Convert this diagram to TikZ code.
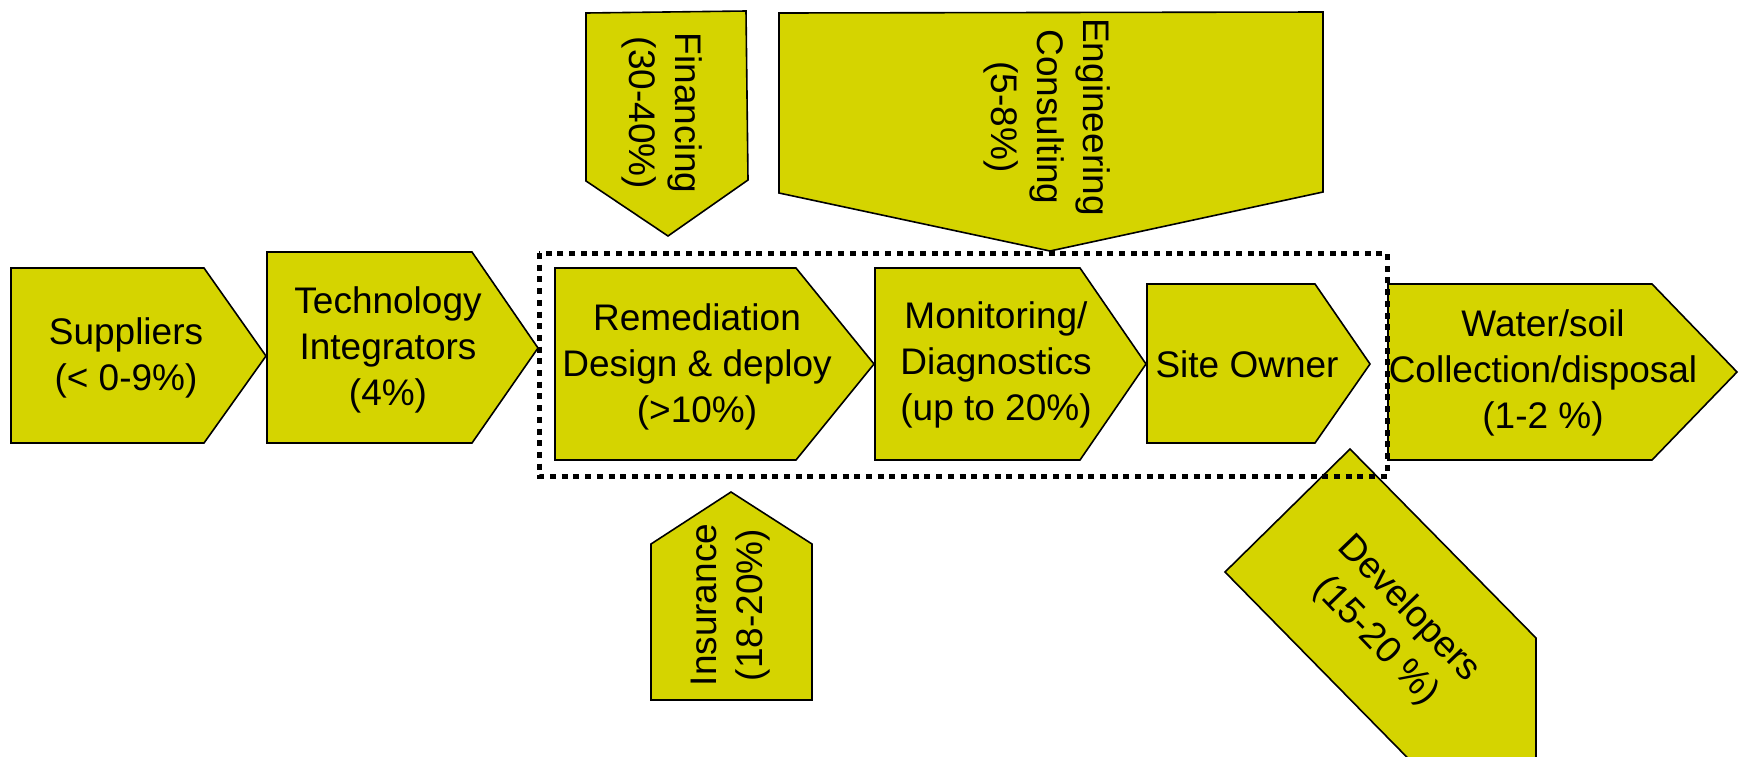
\documentclass[tikz,border=0pt]{standalone}
\usepackage{fontspec}
\setmainfont{Liberation Sans}
\definecolor{chainfill}{RGB}{213,212,0}
\begin{document}
\begin{tikzpicture}[x=0.5pt,y=-0.5pt,
  chev/.style={fill=chainfill, draw=black, line width=0.8pt, line join=miter},
  lbl/.style={font=\fontsize{18.5}{23}\selectfont, align=center, inner sep=0pt, text=black},
  corebox/.style={draw=black, line width=2.5pt, dash pattern=on 3pt off 2.85pt}]
\useasboundingbox (0,0) rectangle (1739,756);
\clip (0,0) rectangle (1739,756);

% main value chain (left to right)
\draw[chev] (11,268) -- (204,268) -- (266,356) -- (204,443) -- (11,443) -- cycle;
\node[lbl] (sup) at (126,358) {Suppliers\\(< 0-9\%)};

\draw[chev] (267,252) -- (472,252) -- (538,348) -- (472,443) -- (267,443) -- cycle;
\node[lbl] (tech) at (388,350) {Technology\\Integrators\\(4\%)};

\draw[chev] (555,268) -- (796,268) -- (874,364) -- (796,460) -- (555,460) -- cycle;
\node[lbl] (rem) at (697,367) {Remediation\\Design \& deploy\\(>10\%)};

\draw[chev] (875,268) -- (1080,268) -- (1146,364) -- (1080,460) -- (875,460) -- cycle;
\node[lbl] (mon) at (996,365) {Monitoring/\\Diagnostics\\(up to 20\%)};

\draw[chev] (1147,284) -- (1315,284) -- (1370,364) -- (1315,443) -- (1147,443) -- cycle;
\node[lbl] (site) at (1247,364) {Site Owner};

\draw[chev] (1388,284) -- (1652,284) -- (1737,372) -- (1652,460) -- (1388,460) -- cycle;
\node[lbl] (water) at (1543,373) {Water/soil\\Collection/disposal\\(1-2 \%)};

% side players feeding in from above and below
\draw[chev] (586,13) -- (746,11) -- (748,180) -- (668,236) -- (586,181) -- cycle;
\node[lbl, rotate=-90] (fin) at (662,113) {Financing\\(30-40\%)};

\draw[chev] (779,13) -- (1323,12) -- (1323,192) -- (1050,251) -- (779,193) -- cycle;
\node[lbl, rotate=-90] (eng) at (1047,117) {Engineering\\Consulting\\(5-8\%)};

\draw[chev] (651,544) -- (731,492) -- (812,544) -- (812,700) -- (651,700) -- cycle;
\node[lbl, rotate=90] (ins) at (731,605) {Insurance\\(18-20\%)};

\draw[chev] (1350,449) -- (1536,638) -- (1536,800) -- (1449,800) -- (1225,572) -- cycle;
\node[lbl, rotate=-46] (dev) at (1392,625) {Developers\\(15-20 \%)};

% core segment frame
\draw[corebox] (539,253) rectangle (1387,476);
\end{tikzpicture}
\end{document}
